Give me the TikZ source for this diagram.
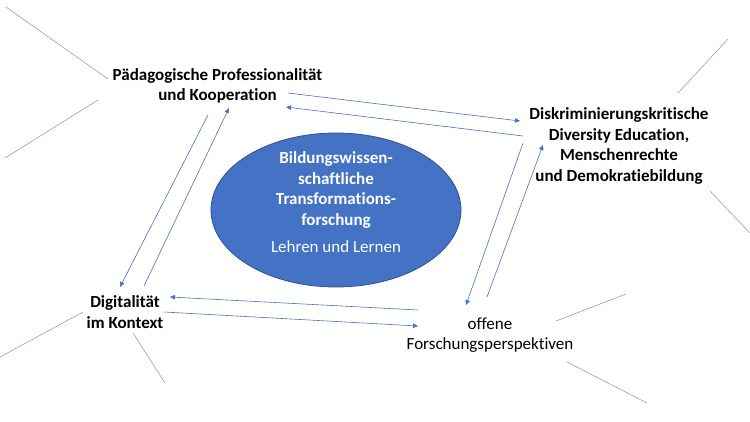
\documentclass[tikz,border=0pt]{standalone}
\usepackage{fontspec}
\setmainfont{Carlito}[Ligatures=NoCommon]
\usetikzlibrary{arrows.meta,shapes.geometric}
\definecolor{officeblue}{HTML}{4472C4}
\definecolor{officeedge}{HTML}{2F528F}
\tikzset{
  topic/.style={align=center, inner sep=0pt, font=\bfseries\fontsize{17}{20.7}\selectfont},
  link/.style={-{Triangle[length=5pt,width=4.5pt]}, officeblue, line width=0.6pt},
  ray/.style={officeblue!75, line width=0.5pt},
  core/.style={ellipse, fill=officeblue, draw=officeedge, line width=0.8pt,
    minimum width=250pt, minimum height=154pt, inner sep=0pt},
}
\begin{document}
\begin{tikzpicture}[x=1pt, y=-1pt]
    \useasboundingbox (0,0) rectangle (750,421);
    % centre
    \node[core] (core) at (336,210) {};
    \node[topic, text=white] (coretext) at (336,202) {Bildungswissen-\\schaftliche\\Transformations-\\forschung\\[6pt]\mdseries Lehren und Lernen};
    % four fields
    \node[topic] (paed) at (217.5,86) {Pädagogische Professionalität\\und Kooperation};
    \node[topic] (disk) at (619,146) {Diskriminierungskritische\\Diversity Education,\\Menschenrechte\\und Demokratiebildung};
    \node[topic] (digi) at (125,312) {Digitalität\\im Kontext};
    \node[topic, font=\fontsize{17}{20.7}\selectfont] (offen) at (490,335) {offene\\Forschungsperspektiven};
    % rays
    \draw[ray] (6,7) -- (108,79);
    \draw[ray] (98,100) -- (5,158);
    \draw[ray] (728,39) -- (678,93);
    \draw[ray] (710,191) -- (750,233);
    \draw[ray] (83,312) -- (0,357);
    \draw[ray] (133,333) -- (165,383);
    \draw[ray] (556,321) -- (626,294);
    \draw[ray] (567,362) -- (647,403);
    % arrow ends
    \coordinate (p2d-a) at (288,93);  \coordinate (p2d-b) at (520,121);
    \coordinate (d2p-a) at (523,136); \coordinate (d2p-b) at (286,107);
    \coordinate (p2g-a) at (208,115); \coordinate (p2g-b) at (120,287);
    \coordinate (g2p-a) at (144,286); \coordinate (g2p-b) at (229,108);
    \coordinate (o2g-a) at (418,310); \coordinate (o2g-b) at (170,297);
    \coordinate (g2o-a) at (164,312); \coordinate (g2o-b) at (418,326);
    \coordinate (d2o-a) at (523,143); \coordinate (d2o-b) at (466,305);
    \coordinate (o2d-a) at (487,297); \coordinate (o2d-b) at (543,145);
    \foreach \n in {p2d,d2p,p2g,g2p,o2g,g2o,d2o,o2d}
        \draw[link] (\n-a) -- (\n-b);
\end{tikzpicture}
\end{document}
